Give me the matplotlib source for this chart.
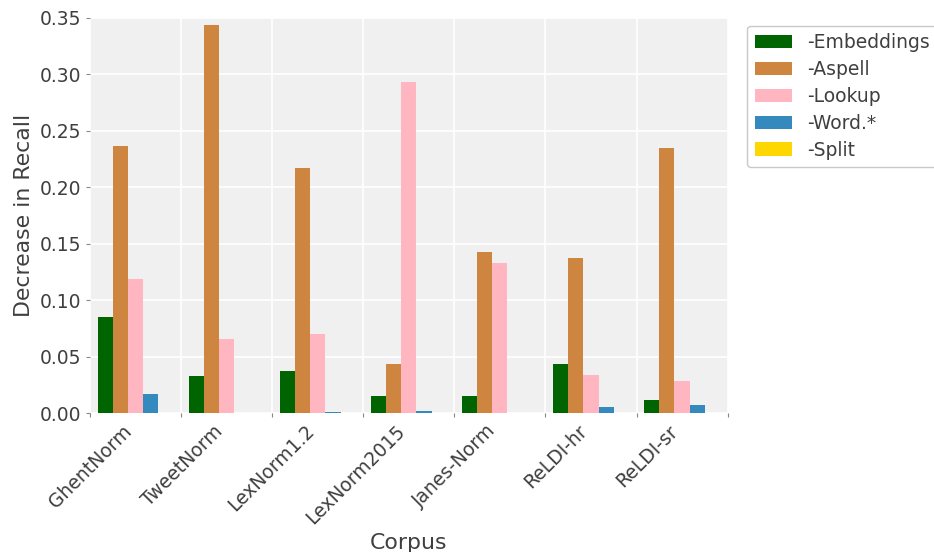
import numpy as np
import matplotlib.pyplot as plt

corpora = ["GhentNorm", "TweetNorm", "LexNorm1.2", "LexNorm2015",
           "Janes-Norm", "ReLDI-hr", "ReLDI-sr"]
features = ["-Embeddings", "-Aspell", "-Lookup", "-Word.*", "-Split"]

embeddings = [0.085, 0.033, 0.0375, 0.015, 0.015, 0.0435, 0.0115]
aspell = [0.237, 0.344, 0.217, 0.0435, 0.143, 0.137, 0.235]
lookup = [0.119, 0.0655, 0.070, 0.293, 0.133, 0.034, 0.0285]
word = [0.017, 0.0, 0.001, 0.0018, 0.0, 0.0053, 0.0071]
split = [0.0, 0.0, 0.0, 0.0, 0.0, 0.0, 0.0]

colors = ["#006400", "#CD853F", "#FFB6C1", "#348ABD", "#FFD700"]
series = [embeddings, aspell, lookup, word, split]

fig = plt.figure(figsize=(9.34, 5.52), dpi=100)
ax = fig.add_axes([0.0964, 0.2518, 0.6826, 0.7156])
ax.set_facecolor("#F0F0F0")

x = np.arange(len(corpora))
width = 1 / 6
for k, (vals, col, name) in enumerate(zip(series, colors, features)):
    ax.bar(x + 0.5 + (k - 2) * width, vals, width, color=col, label=name)

ax.set_xlim(0, len(corpora))
ax.set_ylim(0, 0.35)
ax.set_yticks(np.arange(0, 0.351, 0.05))
ax.set_yticklabels([f"{v:.2f}" for v in np.arange(0, 0.351, 0.05)])

# grid at group boundaries, labels at group centres
ax.set_xticks(np.arange(len(corpora) + 1))
ax.set_xticklabels([])
ax.set_xticks(x + 0.5, minor=True)
ax.set_xticklabels(corpora, minor=True, rotation=45, ha="right",
                   fontsize=13.5, color="#3F3F3F")
ax.tick_params(axis="x", which="minor", length=0, pad=6)
ax.tick_params(axis="both", which="major", length=3, width=0.8,
               color="#888888", labelsize=13.5, labelcolor="#3F3F3F")

ax.grid(True, which="major", color="white", linewidth=1.2)
ax.set_axisbelow(True)
for s in ax.spines.values():
    s.set_visible(False)

ax.set_ylabel("Decrease in Recall", fontsize=15.8, color="#3F3F3F")
ax.set_xlabel("Corpus", fontsize=15.8, color="#3F3F3F")

leg = ax.legend(loc="upper left", bbox_to_anchor=(1.022, 0.995), fontsize=13.5,
                frameon=True, fancybox=True, edgecolor="#BBBBBB",
                handlelength=2.0, labelspacing=0.42, borderaxespad=0.3)
for t in leg.get_texts():
    t.set_color("#3F3F3F")

fig.savefig("out.png", dpi=100)
